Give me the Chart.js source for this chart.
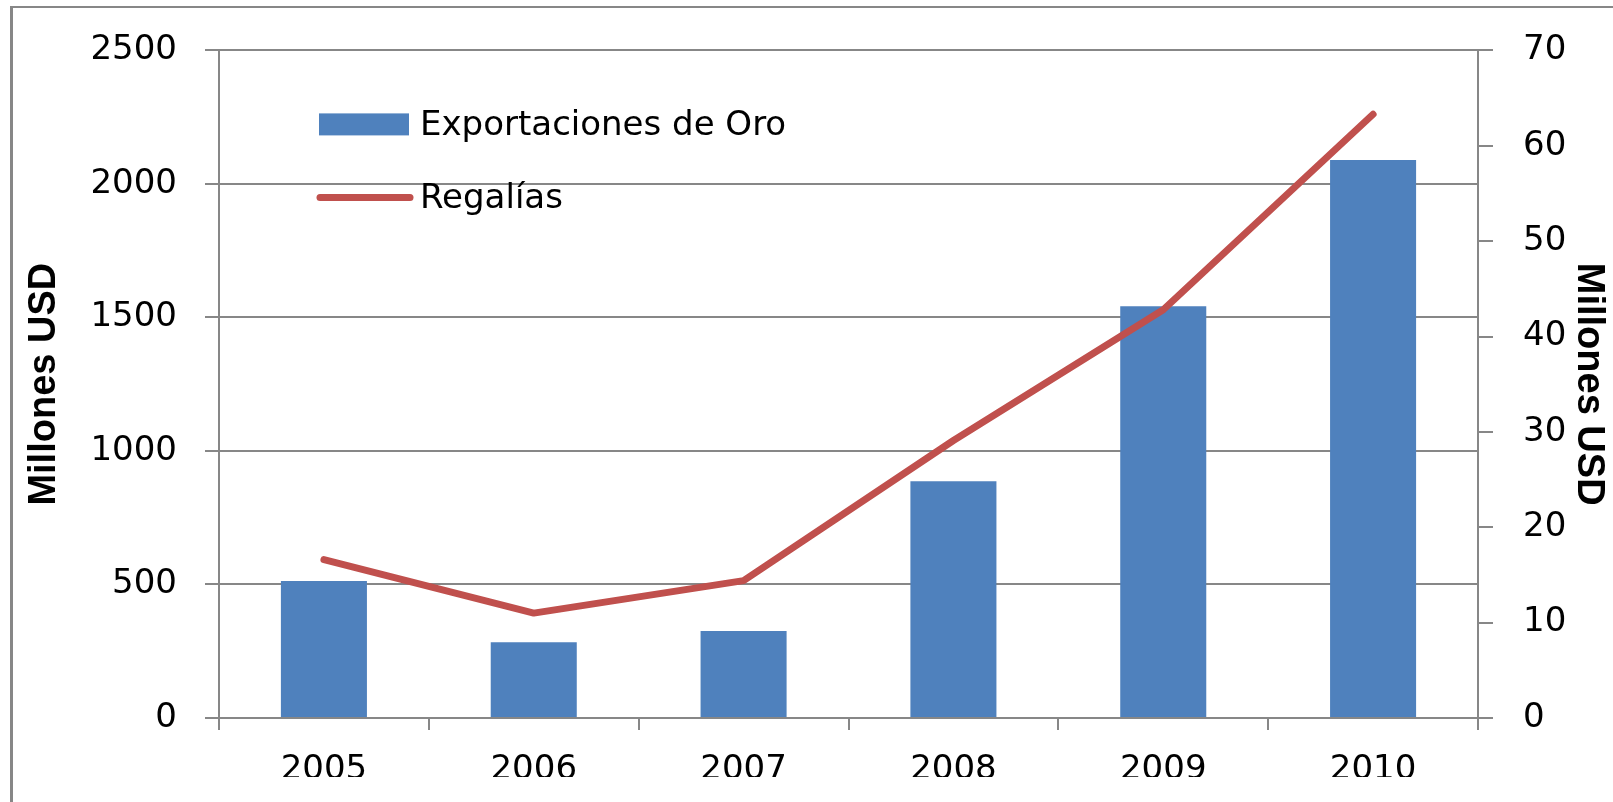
<!DOCTYPE html>
<html>
<head>
<meta charset="utf-8">
<script src="https://cdn.jsdelivr.net/npm/chart.js@4/dist/chart.umd.min.js"></script>
<style>
  html, body { margin: 0; padding: 0; background: #fff; }
  body { width: 1613px; height: 802px; position: relative; overflow: hidden; }
  #frame {
    position: absolute; left: 10px; top: 6px; width: 1603px; height: 796px;
    border-left: 3px solid #878787; border-top: 2px solid #878787; box-sizing: border-box;
  }
  #clip { position: absolute; left: 0; top: 0; width: 1613px; height: 777px; overflow: hidden; }
</style>
</head>
<body>
<div id="frame"></div>
<div id="clip"><canvas id="chart" width="1613" height="802"></canvas></div>
<script>
// ─── Data ───────────────────────────────────────────────────
const years = ['2005', '2006', '2007', '2008', '2009', '2010'];
const exportaciones = [513, 284, 326, 887, 1542, 2090];   // left axis
const regalias = [16.6, 11.0, 14.4, 29.1, 42.8, 63.3];    // right axis
const seriesNames = ['Exportaciones de Oro', 'Regalías'];
const axisTitle = 'Millones USD';

const BLUE = '#4F81BD';
const RED = '#C0504D';
const GRID = '#878787';
const TICK_FONT = { family: "'DejaVu Sans', sans-serif", size: 34 };
const TITLE_FONT = { family: "'Liberation Sans Narrow', 'Liberation Sans', sans-serif", size: 38, weight: 'bold' };

Chart.defaults.color = '#000';
Chart.defaults.font.family = TICK_FONT.family;

// legend drawn inside the plot area, top-left, like the original
const insideLegend = {
    id: 'insideLegend',
    afterDraw(chart) {
        const ctx = chart.ctx;
        const a = chart.chartArea;
        const x0 = a.left + 100;
        ctx.save();
        ctx.fillStyle = BLUE;
        ctx.fillRect(x0, a.top + 63, 90, 22);
        ctx.strokeStyle = RED;
        ctx.lineWidth = 7;
        ctx.lineCap = 'round';
        ctx.beginPath();
        ctx.moveTo(x0 + 1, a.top + 147);
        ctx.lineTo(x0 + 91, a.top + 147);
        ctx.stroke();
        ctx.fillStyle = '#000';
        ctx.font = `${TICK_FONT.size}px ${TICK_FONT.family}`;
        ctx.textBaseline = 'alphabetic';
        ctx.fillText(seriesNames[0], x0 + 101, a.top + 85);
        ctx.fillText(seriesNames[1], x0 + 101, a.top + 158);
        ctx.restore();
    }
};

const plain = v => String(v);

new Chart(document.getElementById('chart'), {
    type: 'bar',
    data: {
        labels: years,
        datasets: [
            {
                type: 'line', label: seriesNames[1], data: regalias, yAxisID: 'yR',
                borderColor: RED, borderWidth: 7, pointRadius: 0, tension: 0,
                borderCapStyle: 'round', borderJoinStyle: 'round', order: 0
            },
            {
                type: 'bar', label: seriesNames[0], data: exportaciones, yAxisID: 'y',
                backgroundColor: BLUE, barPercentage: 0.41, categoryPercentage: 1, order: 1
            }
        ]
    },
    options: {
        responsive: false, animation: false, devicePixelRatio: 1,
        layout: { padding: { top: 50, left: 0, right: 0, bottom: 0 } },
        plugins: { legend: { display: false }, tooltip: { enabled: false } },
        scales: {
            x: {
                offset: true,
                grid: { offset: true, drawOnChartArea: false, color: GRID, lineWidth: 2, tickLength: 12 },
                border: { color: GRID, width: 2 },
                ticks: { font: TICK_FONT, padding: 20, maxRotation: 0 },
                afterFit: s => { s.height = 84; }
            },
            y: {
                position: 'left', min: 0, max: 2500,
                ticks: { stepSize: 500, font: TICK_FONT, padding: 28, callback: plain },
                grid: { color: GRID, lineWidth: 2, tickLength: 14 },
                border: { color: GRID, width: 2 },
                title: { display: true, text: axisTitle, font: TITLE_FONT, padding: { top: 22, bottom: 0 } },
                afterFit: s => { s.width = 219; }
            },
            yR: {
                position: 'right', min: 0, max: 70,
                ticks: { stepSize: 10, font: TICK_FONT, padding: 30, callback: plain },
                grid: { drawOnChartArea: false, color: GRID, lineWidth: 2, tickLength: 15 },
                border: { color: GRID, width: 2 },
                title: { display: true, text: axisTitle, font: TITLE_FONT, padding: { top: 2, bottom: 0 } },
                afterFit: s => { s.width = 135; }
            }
        }
    },
    plugins: [insideLegend]
});
</script>
</body>
</html>
